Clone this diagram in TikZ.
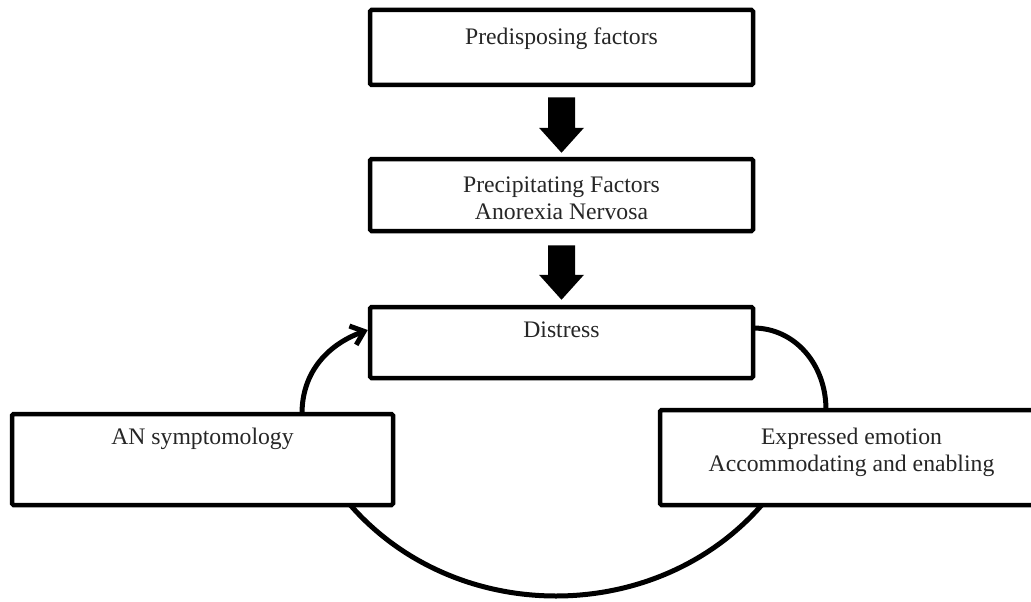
\documentclass[tikz,border=0pt]{standalone}
\usepackage{fontspec}
\setmainfont{Liberation Serif}
\usetikzlibrary{calc,arrows.meta,backgrounds}

\tikzset{
  box/.style={draw=black, line width=4.5pt, rounded corners=1.5pt, fill=white,
              inner sep=0pt, minimum width=383pt},
  caption/.style={anchor=base, inner sep=0pt, text=black!85,
                  font=\fontsize{23.7}{27}\selectfont},
  link/.style={draw=black, line width=5pt},
  blockfill/.style={fill=black},
}

% Filled block arrow: shaft from #1 down to the head whose point is #2
\newcommand\blockarr[2]{%
  \fill[blockfill] ($(#1)+(-13.5,0)$) -- ($(#1)+(13.5,0)$)
    -- ($(#2)+(13.5,-25)$) -- ($(#2)+(22.5,-25)$) -- (#2)
    -- ($(#2)+(-22.5,-25)$) -- ($(#2)+(-13.5,-25)$) -- cycle;}

\newcommand\twolines[2]{\begin{tabular}[t]{@{}c@{}}#1\\#2\end{tabular}}

\begin{document}
\begin{tikzpicture}[x=1pt,y=-1pt]
\useasboundingbox (0,0) rectangle (1031,602);
\clip (0,0) rectangle (1031,602);

% boxes
\node[box, minimum height=75pt] (b1) at (561.5,47.5) {};
\node[box, minimum height=72pt] (b2) at (561.5,195) {};
\node[box, minimum height=71pt] (b3) at (561.5,342.5) {};
\node[box, minimum width=381pt, minimum height=91pt] (an) at (202.5,459.5) {};
\node[box, minimum height=95pt] (ee) at (851.5,457.5) {};

% captions
\node[caption] (t1) at ($(b1.north)+(0,37)$) {Predisposing factors};
\node[caption] (t2) at ($(b2.north)+(0,36)$) {\twolines{Precipitating Factors}{Anorexia Nervosa}};
\node[caption] (t3) at ($(b3.north)+(0,33)$) {Distress};
\node[caption] (t4) at ($(an.north)+(0,33)$) {AN symptomology};
\node[caption] (t5) at ($(ee.north)+(0,37)$) {\twolines{Expressed emotion}{Accommodating and enabling}};

% block arrows between the stacked boxes
\coordinate (a1s) at ($(b1.south)+(0,10)$);
\coordinate (a1e) at ($(b2.north)+(0,-4)$);
\coordinate (a2s) at ($(b2.south)+(0,12)$);
\coordinate (a2e) at ($(b3.north)+(0,-5)$);
\blockarr{a1s}{a1e}
\blockarr{a2s}{a2e}

% the feedback loop
\begin{scope}[on background layer]
\draw[link, -{Straight Barb[length=12pt,width=20pt]}]
  ($(an.north)+(99.5,2)$) .. controls +(0,-43) and +(-38.5,14) .. ($(b3.west)+(0,-12.5)$);
\draw[link]
  ($(b3.east)+(-2,-14.5)$) .. controls +(41,0) and +(0,-46) .. ($(ee.north)+(-25.5,2)$);
\draw[link]
  ($(an.south)+(148,-2)$) .. controls +(106,121) and +(-106,121) .. ($(ee.south)+(-90,-2)$);
\end{scope}
\end{tikzpicture}
\end{document}
